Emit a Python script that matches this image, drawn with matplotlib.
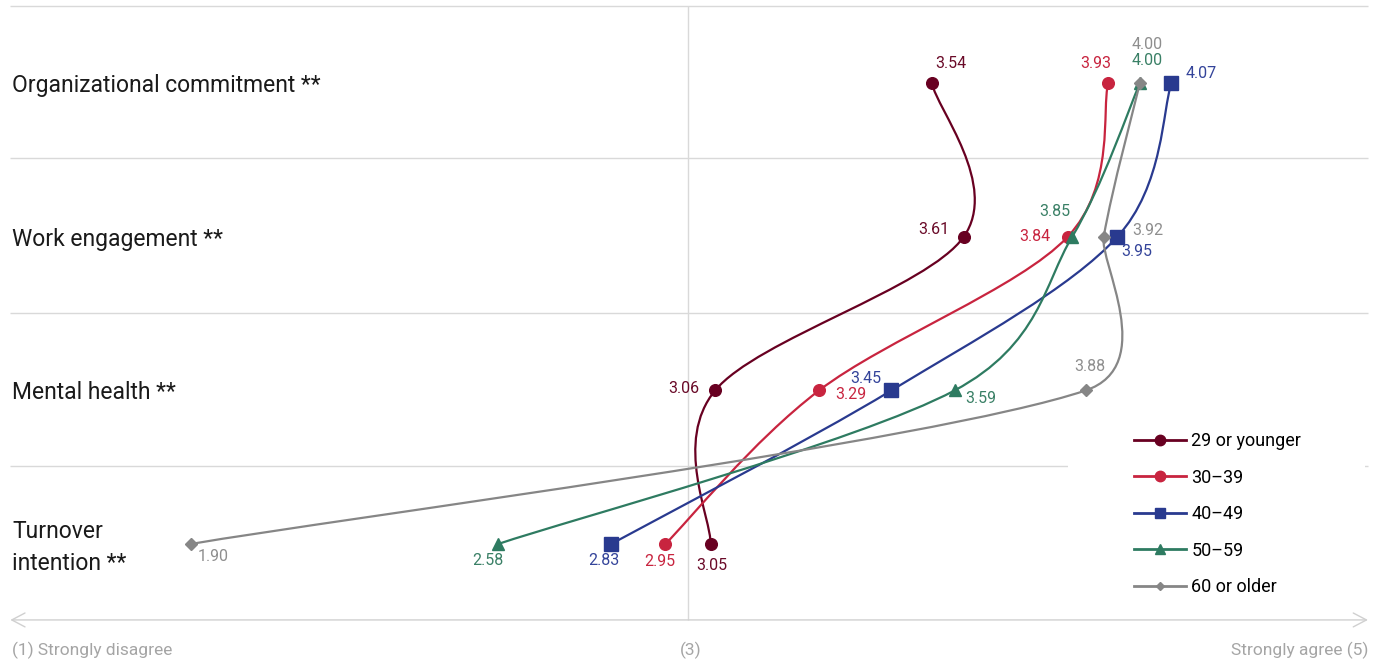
import numpy as np
import matplotlib
matplotlib.use('Agg')
import matplotlib.pyplot as plt
from matplotlib.path import Path
from matplotlib.patches import PathPatch, Rectangle
from matplotlib.lines import Line2D

# data
categories = ['Organizational commitment **', 'Work engagement **', 'Mental health **', 'Turnover\nintention **']
groups = ['29 or younger', '30–39', '40–49', '50–59', '60 or older']
age_29_younger = [3.54, 3.61, 3.06, 3.05]
age_30_39 = [3.93, 3.84, 3.29, 2.95]
age_40_49 = [4.07, 3.95, 3.45, 2.83]
age_50_59 = [4.00, 3.85, 3.59, 2.58]
age_60_older = [4.00, 3.92, 3.88, 1.90]
scale_labels = ['(1) Strongly disagree', '(3)', 'Strongly agree (5)']

series = [age_29_younger, age_30_39, age_40_49, age_50_59, age_60_older]

# style
colors = ['#680021', '#c8243f', '#293a8f', '#2e7b61', '#868686']
text_colors = ['#6a0a28', '#c8243f', '#34449a', '#3a8066', '#8e8e8e']
markers = ['o', 'o', 's', '^', 'D']
msizes = [8.4, 8.4, 9.4, 9.0, 6.0]
leg_msizes = [7.5, 7.5, 7.4, 6.8, 4.2]
# value label offsets in pixels (dx right, dy down)
offsets = [
    [(19, -20), (-30, -7), (-31, -2), (1, 22)],
    [(-12, -20), (-33, 0), (32, 4), (-6, 18)],
    [(30, -10), (20, 15), (-25, -12), (-7, 17)],
    [(7, -23), (-17, -25), (26, 8), (-10, 17)],
    [(7, -39), (44, -6), (4, -24), (22, 13)],
]

plt.rcParams['font.family'] = ['Roboto', 'DejaVu Sans']
grid_col = '#d9d9d9'


def smooth_path(ax, xs, ys):
    # excel-like smoothed line: bezier handles 1/6 of neighbour chord, capped at half segment
    pts = ax.transData.transform(np.column_stack([xs, ys]))
    n = len(pts)
    verts = [pts[0]]
    codes = [Path.MOVETO]
    for i in range(n - 1):
        p0 = pts[max(i - 1, 0)]
        p1 = pts[i]
        p2 = pts[i + 1]
        p3 = pts[min(i + 2, n - 1)]
        d02 = np.hypot(*(p2 - p0))
        d12 = np.hypot(*(p2 - p1))
        d13 = np.hypot(*(p3 - p1))
        f = 1 / 6
        if d02 / 6 >= d12 / 2:
            f = min(f, d12 / d02 / 2)
        if d13 / 6 >= d12 / 2:
            f = min(f, d12 / d13 / 2)
        verts += [p1 + f * (p2 - p0), p2 - f * (p3 - p1), p2]
        codes += [Path.CURVE4] * 3
    verts = ax.transData.inverted().transform(np.array(verts))
    return Path(verts, codes)


fig = plt.figure(figsize=(13.82, 6.62), dpi=100)
ax = fig.add_axes([0, 0, 1, 1])
ax.set_xlim(1.4772, 4.5361)
ax.set_ylim(3.769, -0.544)
ax.axis('off')

x_left, x_right = 1.5, 4.505
rows = np.arange(len(categories))

# grid
ax.hlines([-0.505, 0.485, 1.495, 2.492], x_left, x_right, color=grid_col, lw=1, zorder=1)
ax.vlines(3, -0.505, 3.495, color=grid_col, lw=1, zorder=1)
ax.annotate('', xy=(x_left, 3.495), xytext=(x_right, 3.495),
            arrowprops=dict(arrowstyle='<->,head_length=0.95,head_width=0.5',
                            color='#d0d0d0', lw=1, shrinkA=0, shrinkB=0))

# category labels
for i, cat in enumerate(categories):
    y = rows[i] + (0.025 if '\n' in cat else 0.015)
    ax.text(1.504, y, cat, ha='left', va='center', fontsize=16.5,
            color='#1a1a1a', linespacing=1.5)

# scale labels
ax.text(x_left + 0.004, 3.691, scale_labels[0], ha='left', va='center', fontsize=12.5, color='#a5a5a5')
ax.text(3.005, 3.691, scale_labels[1], ha='center', va='center', fontsize=12.5, color='#a5a5a5')
ax.text(x_right, 3.691, scale_labels[2], ha='right', va='center', fontsize=12.5, color='#a5a5a5')

# series
handles = []
for k, vals in enumerate(series):
    path = smooth_path(ax, vals, rows)
    ax.add_patch(PathPatch(path, facecolor='none', edgecolor=colors[k], lw=1.6, zorder=3 + k * 0.1))
    ax.plot(vals, rows, ls='none', marker=markers[k], ms=msizes[k], color=colors[k],
            mec=colors[k], zorder=3.05 + k * 0.1)
    for j, v in enumerate(vals):
        dx, dy = offsets[k][j]
        ax.annotate(f'{v:.2f}', (v, rows[j]), xytext=(dx, -dy), textcoords='offset pixels',
                    ha='center', va='center', fontsize=11.5, color=text_colors[k], zorder=6)
    handles.append(Line2D([], [], color=colors[k], lw=2, marker=markers[k],
                          ms=leg_msizes[k], mec=colors[k]))

# legend
ax.add_patch(Rectangle((0.7728, 0.0861), 0.2149, 0.2795, transform=ax.transAxes,
                       facecolor='white', edgecolor='none', zorder=2))
ax.legend(handles, groups, loc='upper left', bbox_to_anchor=(1134 / 1382, 1 - 432 / 662),
          frameon=False, fontsize=13, handlelength=2.88, handletextpad=0.3,
          labelspacing=1.03, borderpad=0, borderaxespad=0)

plt.savefig('out.png', dpi=100)
